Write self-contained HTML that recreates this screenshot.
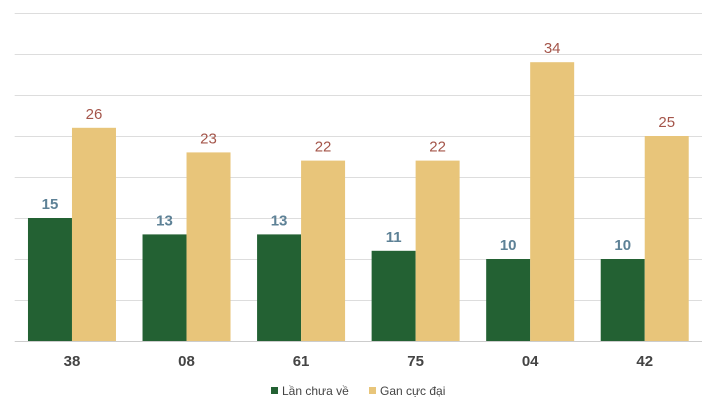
<!DOCTYPE html>
<html><head><meta charset="utf-8"><style>
body{margin:0;background:#fff;font-family:"Liberation Sans",Roboto,sans-serif}
svg{display:block}
</style></head><body>
<svg id="chart" width="717" height="411" xmlns="http://www.w3.org/2000/svg">
<g id="grid"></g>
<g id="bars"></g>
<g id="xlabels"></g>
<g font-size="12" fill="#444">
<g><rect x="271" y="387" width="7" height="7" fill="#236133"/><text x="282" y="395">Lần chưa về</text></g>
<g><rect x="369" y="387" width="7" height="7" fill="#e8c57a"/><text x="380" y="395">Gan cực đại</text></g>
</g>
</svg>
<script>
const categories=["38","08","61","75","04","42"];
const lanChuaVe=[15,13,13,11,10,10];
const ganCucDai=[26,23,22,22,34,25];
const yTicks=[0,5,10,15,20,25,30,35,40];
const NS="http://www.w3.org/2000/svg";
const x0=14.7,x1=702,yBase=341,yTop=13,yMax=40;
const y=v=>yBase-(v/yMax)*(yBase-yTop);
const step=(x1-x0)/categories.length;
const cx=i=>x0+step*(i+0.5);
function mk(tag,attrs,parent){const e=document.createElementNS(NS,tag);for(const k in attrs)e.setAttribute(k,attrs[k]);parent.appendChild(e);return e;}
const grid=document.getElementById('grid'),bars=document.getElementById('bars'),xl=document.getElementById('xlabels');
yTicks.forEach(t=>{const l=mk('line',{x1:x0,x2:x1,y1:y(t)+0.5,y2:y(t)+0.5,stroke:t===0?'#ccc':'#ddd','stroke-width':1},grid);

});
const bw=44;
categories.forEach((c,i)=>{
 const g=mk('rect',{x:cx(i)-bw,y:y(lanChuaVe[i]),width:bw,height:yBase-y(lanChuaVe[i]),fill:'#236133'},bars);
 
 
 const o=mk('rect',{x:cx(i),y:y(ganCucDai[i]),width:bw,height:yBase-y(ganCucDai[i]),fill:'#e8c57a'},bars);
 
 
 const t1=mk('text',{x:cx(i)-bw/2,y:y(lanChuaVe[i])-9,'text-anchor':'middle','font-size':15,'font-weight':'bold',fill:'#5d8196'},bars);
 t1.textContent=lanChuaVe[i];
 
 
 const t2=mk('text',{x:cx(i)+bw/2,y:y(ganCucDai[i])-9,'text-anchor':'middle','font-size':15,fill:'#a4554a'},bars);
 t2.textContent=ganCucDai[i];
 
 
 const xt=mk('text',{x:cx(i),y:366,'text-anchor':'middle','font-size':15,'font-weight':'bold',fill:'#444'},xl);
 xt.textContent=c;
 
 
});
</script>
</body></html>
